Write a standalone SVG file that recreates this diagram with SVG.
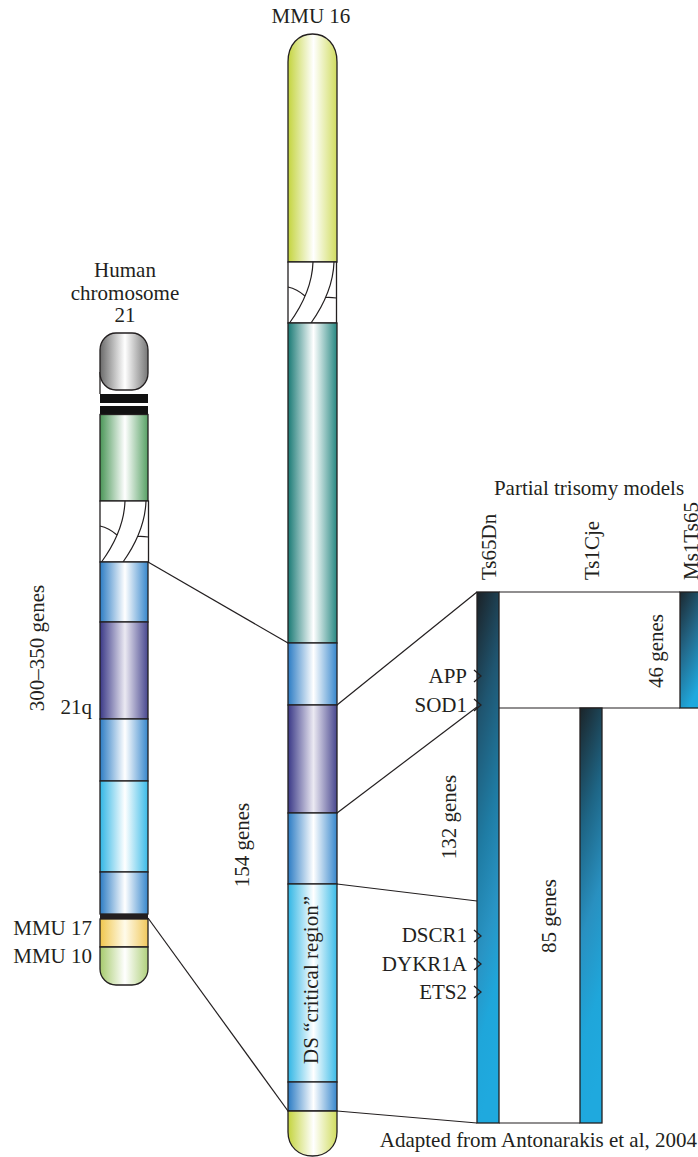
<svg xmlns="http://www.w3.org/2000/svg" width="698" height="1157" viewBox="0 0 698 1157">
  <style>
    text { font-family: "Liberation Serif", "Times New Roman", serif; font-size: 21px; fill: #231f20; }
    .band { stroke: #231f20; stroke-width: 1.3; }
    .link { stroke: #231f20; stroke-width: 1.2; fill: none; }
    .hatch { stroke: #231f20; stroke-width: 1.2; fill: none; }
    .chev { stroke: #231f20; stroke-width: 1.3; fill: none; }
    .bar { stroke: #231f20; stroke-width: 1.3; }
  </style>
  <defs>
    <linearGradient id="gGrey" x1="0" y1="0" x2="1" y2="0">
      <stop offset="0" stop-color="#6a6a6a"/><stop offset="0.52" stop-color="#ffffff"/><stop offset="1" stop-color="#767676"/>
    </linearGradient>
    <linearGradient id="gGreen" x1="0" y1="0" x2="1" y2="0">
      <stop offset="0" stop-color="#4a9657"/><stop offset="0.52" stop-color="#ffffff"/><stop offset="1" stop-color="#58a165"/>
    </linearGradient>
    <linearGradient id="gBlue" x1="0" y1="0" x2="1" y2="0">
      <stop offset="0" stop-color="#2c7cc4"/><stop offset="0.52" stop-color="#ffffff"/><stop offset="1" stop-color="#3787cc"/>
    </linearGradient>
    <linearGradient id="gPurple" x1="0" y1="0" x2="1" y2="0">
      <stop offset="0" stop-color="#3a3987"/><stop offset="0.52" stop-color="#ebe9f2"/><stop offset="1" stop-color="#48478f"/>
    </linearGradient>
    <linearGradient id="gCyan" x1="0" y1="0" x2="1" y2="0">
      <stop offset="0" stop-color="#31b6e5"/><stop offset="0.52" stop-color="#ffffff"/><stop offset="1" stop-color="#3abbe8"/>
    </linearGradient>
    <linearGradient id="gYellow" x1="0" y1="0" x2="1" y2="0">
      <stop offset="0" stop-color="#f0c64c"/><stop offset="0.52" stop-color="#fffbea"/><stop offset="1" stop-color="#f0c85c"/>
    </linearGradient>
    <linearGradient id="gLime" x1="0" y1="0" x2="1" y2="0">
      <stop offset="0" stop-color="#a6ca6c"/><stop offset="0.52" stop-color="#ffffff"/><stop offset="1" stop-color="#b0d07c"/>
    </linearGradient>
    <linearGradient id="gChartreuse" x1="0" y1="0" x2="1" y2="0">
      <stop offset="0" stop-color="#c4d43e"/><stop offset="0.52" stop-color="#ffffff"/><stop offset="1" stop-color="#d0dc5e"/>
    </linearGradient>
    <linearGradient id="gTeal" x1="0" y1="0" x2="1" y2="0">
      <stop offset="0" stop-color="#1a7a75"/><stop offset="0.52" stop-color="#ffffff"/><stop offset="1" stop-color="#278882"/>
    </linearGradient>
    <linearGradient id="gBarLong" x1="0" y1="0" x2="0.15" y2="1">
      <stop offset="0" stop-color="#1b2126"/><stop offset="0.25" stop-color="#1f5570"/><stop offset="0.5" stop-color="#1f7ca4"/><stop offset="0.7" stop-color="#2994c4"/><stop offset="0.85" stop-color="#1fa6da"/><stop offset="1" stop-color="#1fa9de"/>
    </linearGradient>
    <linearGradient id="gBarMid" x1="0" y1="0" x2="0.15" y2="1">
      <stop offset="0" stop-color="#1b2429"/><stop offset="0.3" stop-color="#1e6585"/><stop offset="0.55" stop-color="#2990c0"/><stop offset="0.8" stop-color="#1fa6da"/><stop offset="1" stop-color="#1fa9de"/>
    </linearGradient>
    <linearGradient id="gBarShort" x1="0" y1="0" x2="0.4" y2="1">
      <stop offset="0" stop-color="#1b2830"/><stop offset="0.5" stop-color="#23698b"/><stop offset="1" stop-color="#1fa9de"/>
    </linearGradient>
    <!-- hatched (repetitive) segment, 48 x 61 -->
    <g id="hatchSeg">
      <rect x="0" y="0" width="48.5" height="61" fill="#ffffff" class="band"/>
      <path class="hatch" d="M25,0 Q24,30 1.5,61"/>
      <path class="hatch" d="M46,0 Q45,30 23,61"/>
      <path class="hatch" d="M0,25 Q9,27 17,34"/>
      <path class="hatch" d="M37,35.5 Q42,35 48.5,36"/>
    </g>
  </defs>

  <rect width="698" height="1157" fill="#ffffff"/>

  <!-- Human chromosome 21 -->
  <g id="human21">
    <text x="125" y="277" text-anchor="middle">Human</text>
    <text x="125" y="299.5" text-anchor="middle">chromosome</text>
    <text x="125" y="322" text-anchor="middle">21</text>
    <line x1="100" y1="372" x2="100" y2="394" class="band"/>
    <rect x="100" y="333" width="48" height="57" rx="16" ry="17" fill="url(#gGrey)" class="band"/>
    <rect x="100" y="394" width="48" height="9" fill="#111"/>
    <rect x="100" y="406" width="48" height="8.5" fill="#111"/>
    <rect x="100" y="414.5" width="48" height="86.5" fill="url(#gGreen)" class="band"/>
    <use href="#hatchSeg" transform="translate(100,501)"/>
    <rect x="100" y="562" width="48" height="60" fill="url(#gBlue)" class="band"/>
    <rect x="100" y="622" width="48" height="97" fill="url(#gPurple)" class="band"/>
    <rect x="100" y="719" width="48" height="62" fill="url(#gBlue)" class="band"/>
    <rect x="100" y="781" width="48" height="91" fill="url(#gCyan)" class="band"/>
    <rect x="100" y="872" width="48" height="42" fill="url(#gBlue)" class="band"/>
    <rect x="100" y="914" width="48" height="5" fill="#231f20"/>
    <rect x="100" y="919" width="48" height="28" fill="url(#gYellow)" class="band"/>
    <path d="M100,947 V969 A16,16 0 0 0 116,985 H132 A16,16 0 0 0 148,969 V947 Z" fill="url(#gLime)" class="band"/>
    <text transform="translate(44,648) rotate(-90)" text-anchor="middle">300–350 genes</text>
    <text x="92" y="714" text-anchor="end">21q</text>
    <text x="92" y="935" text-anchor="end">MMU 17</text>
    <text x="92" y="963" text-anchor="end">MMU 10</text>
  </g>

  <!-- Mouse chromosome 16 -->
  <g id="mmu16">
    <text x="311" y="23" text-anchor="middle">MMU 16</text>
    <path d="M288,262 V62 C288,44 299,34 312.5,34 C326,34 337,44 337,62 V262 Z" fill="url(#gChartreuse)" class="band"/>
    <use href="#hatchSeg" transform="translate(288,262)"/>
    <rect x="288" y="323" width="49" height="320" fill="url(#gTeal)" class="band"/>
    <rect x="288" y="643" width="49" height="62" fill="url(#gBlue)" class="band"/>
    <rect x="288" y="705" width="49" height="108" fill="url(#gPurple)" class="band"/>
    <rect x="288" y="813" width="49" height="71" fill="url(#gBlue)" class="band"/>
    <rect x="288" y="884" width="49" height="198" fill="url(#gCyan)" class="band"/>
    <rect x="288" y="1082" width="49" height="29" fill="url(#gBlue)" class="band"/>
    <path d="M288,1111 V1132 C288,1147 299,1156 312.5,1156 C326,1156 337,1147 337,1132 V1111 Z" fill="url(#gChartreuse)" class="band"/>
    <text transform="translate(249,845) rotate(-90)" text-anchor="middle">154 genes</text>
    <text transform="translate(318,980) rotate(-90)" text-anchor="middle">DS “critical region”</text>
  </g>

  <!-- Connectors between chromosomes and models -->
  <g id="connectors">
    <line class="link" x1="148" y1="562" x2="288" y2="643"/>
    <line class="link" x1="148" y1="918" x2="288" y2="1111"/>
    <line class="link" x1="337" y1="705" x2="477" y2="592"/>
    <line class="link" x1="337" y1="813" x2="477" y2="707"/>
    <line class="link" x1="337" y1="884" x2="477" y2="901"/>
    <line class="link" x1="337" y1="1111" x2="477" y2="1123"/>
    <line class="link" x1="499" y1="592" x2="680" y2="592"/>
    <line class="link" x1="499" y1="708" x2="680" y2="708"/>
    <line class="link" x1="499" y1="1123" x2="580" y2="1123" stroke="#555"/>
  </g>

  <!-- Partial trisomy models -->
  <g id="models">
    <text x="589" y="495" text-anchor="middle">Partial trisomy models</text>
  </g>

  <g id="ts65dn">
    <text transform="translate(496,580) rotate(-90)">Ts65Dn</text>
    <rect x="477" y="592" width="22" height="531" fill="url(#gBarLong)" class="bar"/>
    <text transform="translate(456,817) rotate(-90)" text-anchor="middle">132 genes</text>
  </g>

  <g id="ts1cje">
    <text transform="translate(599,580) rotate(-90)">Ts1Cje</text>
    <rect x="580" y="708" width="22" height="415" fill="url(#gBarMid)" class="bar"/>
    <text transform="translate(556,916) rotate(-90)" text-anchor="middle">85 genes</text>
  </g>

  <g id="ms1ts65">
    <text transform="translate(698,580) rotate(-90)">Ms1Ts65</text>
    <rect x="680" y="592" width="22" height="116" fill="url(#gBarShort)" class="bar"/>
    <text transform="translate(663,651) rotate(-90)" text-anchor="middle">46 genes</text>
  </g>

  <!-- Gene markers -->
  <g id="genes">
    <text x="467" y="683" text-anchor="end">APP</text>
    <path class="chev" d="M474,670 L481,676 L474,682"/>
    <text x="467" y="712" text-anchor="end">SOD1</text>
    <path class="chev" d="M474,699 L481,705 L474,711"/>
    <text x="467" y="942" text-anchor="end">DSCR1</text>
    <path class="chev" d="M474,930 L481,936 L474,942"/>
    <text x="467" y="971" text-anchor="end">DYKR1A</text>
    <path class="chev" d="M474,958 L481,964 L474,970"/>
    <text x="467" y="999" text-anchor="end">ETS2</text>
    <path class="chev" d="M474,986 L481,992 L474,998"/>
  </g>

  <text id="credit" x="697" y="1147" text-anchor="end">Adapted from Antonarakis et al, 2004</text>
</svg>
